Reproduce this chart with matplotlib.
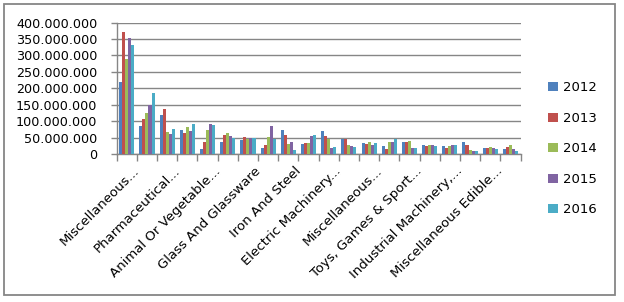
import matplotlib
matplotlib.use("Agg")
import matplotlib.pyplot as plt
import matplotlib.ticker as mticker
import matplotlib.transforms as mtransforms
from matplotlib.patches import Rectangle
import numpy as np

plt.rcParams['font.family'] = ['DejaVu Sans']

shown_labels = ["Miscellaneous...", "Pharmaceutical...", "Animal Or Vegetable...",
                "Glass And Glassware", "Iron And Steel", "Electric Machinery...",
                "Miscellaneous...", "Toys, Games & Sport...", "Industrial Machinery,...",
                "Miscellaneous Edible..."]
years = ["2012", "2013", "2014", "2015", "2016"]
colors = ["#4F81BD", "#C0504D", "#9BBB59", "#8064A2", "#4BACC6"]

v2012 = [219, 85, 119, 73, 15, 37, 43, 18, 74, 29, 69, 45, 32, 23, 38, 26, 23, 38, 17, 14]
v2013 = [371, 107, 137, 64, 37, 58, 52, 27, 59, 32, 54, 45, 29, 14, 38, 23, 17, 26, 17, 20]
v2014 = [289, 125, 67, 82, 73, 64, 46, 52, 31, 32, 45, 26, 35, 35, 41, 26, 23, 11, 20, 26]
v2015 = [353, 148, 61, 70, 91, 55, 49, 85, 37, 54, 17, 23, 26, 35, 17, 26, 26, 8, 17, 14]
v2016 = [332, 186, 76, 91, 88, 49, 49, 46, 13, 57, 20, 20, 32, 45, 17, 23, 26, 8, 14, 8]
series = [v2012, v2013, v2014, v2015, v2016]

fig = plt.figure(figsize=(6.24, 3.02), dpi=100)
ax = fig.add_axes([116.7/624, 1-154/302, (520.5-116.7)/624, (154-22.5)/302])

n = len(v2012)
x = np.arange(n)
bw = 0.15
for i, (vals, c, y) in enumerate(zip(series, colors, years)):
    ax.bar(x + (i - 2) * bw, np.array(vals) * 1e6, width=bw, color=c, label=y, linewidth=0, zorder=3)

gray = "#868686"
ax.set_xlim(-0.5, n - 0.5)
ax.set_ylim(0, 400e6)
ax.set_yticks(np.arange(0, 400e6 + 1, 50e6))
ax.yaxis.set_major_formatter(mticker.FuncFormatter(lambda v, p: f"{int(v):,}".replace(",", ".")))
ax.grid(axis='y', color=gray, linewidth=1.0, zorder=0)
ax.set_axisbelow(True)
for s in ['top', 'right']:
    ax.spines[s].set_visible(False)
for s in ['left', 'bottom']:
    ax.spines[s].set_color(gray)
    ax.spines[s].set_linewidth(1.0)
ax.tick_params(axis='y', length=4, color=gray, width=1.0, labelsize=9.2, pad=10, labelcolor='black')

ax.set_xticks(np.arange(0, n, 2))
ax.set_xticklabels(shown_labels, rotation=45, ha='right', va='top', rotation_mode='anchor', fontsize=9.5)
ax.set_xticks(np.arange(-0.5, n, 1), minor=True)
ax.tick_params(axis='x', which='major', length=0, pad=6)
ax.tick_params(axis='x', which='minor', length=5, color=gray, width=1.0)
offset = mtransforms.ScaledTranslation(6/100, -2/100, fig.dpi_scale_trans)
for lab in ax.get_xticklabels():
    lab.set_transform(lab.get_transform() + offset)

leg = fig.legend(loc='upper left', bbox_to_anchor=(543/624, 1-76/302), frameon=False,
                 fontsize=9.5, handlelength=0.7, handleheight=0.7, handletextpad=0.45,
                 labelspacing=1.33, borderaxespad=0)

fig.patches.append(Rectangle((4/624, 1-295/302), (614.5-4)/624, (295-4)/302,
                             transform=fig.transFigure, fill=False, edgecolor=gray, linewidth=1.3))

fig.savefig("out.png", dpi=100)
